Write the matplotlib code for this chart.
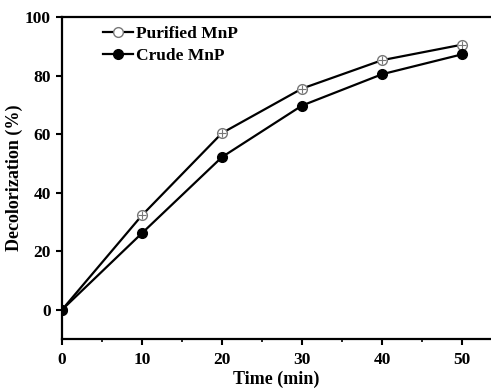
import matplotlib
matplotlib.use("Agg")
import matplotlib.pyplot as plt

time_min = [0, 10, 20, 30, 40, 50]
purified = [0, 32.3, 60.4, 75.6, 85.3, 90.6]
crude = [0, 26.2, 52.2, 69.8, 80.5, 87.3]

plt.rcParams["font.family"] = ["Liberation Serif", "DejaVu Serif"]
plt.rcParams["font.weight"] = "bold"

fig = plt.figure(figsize=(4.91, 3.89), dpi=100)
ax = fig.add_axes([0.126, 0.128, 0.874, 0.828])

ax.plot(time_min, purified, "-o", color="black", lw=1.6, ms=7,
        mfc="white", mec="#777777", mew=1.0, label="Purified MnP")
ax.plot(time_min, purified, "+", color="#777777", ms=6, mew=0.8)
ax.plot(time_min, crude, "-o", color="black", lw=1.6, ms=7,
        mfc="black", mec="black", label="Crude MnP")

ax.set_xlim(0, 53.6)
ax.set_ylim(-10, 100)
ax.set_xticks([0, 10, 20, 30, 40, 50])
ax.set_xticks([5, 15, 25, 35, 45], minor=True)
ax.set_yticks([0, 20, 40, 60, 80, 100])
ax.spines["right"].set_visible(False)
for s in ["left", "bottom", "top"]:
    ax.spines[s].set_linewidth(1.6)
ax.tick_params(direction="out", width=1.5, length=4, labelsize=12.5)
ax.tick_params(axis="x", pad=5)
ax.tick_params(axis="y", pad=4)
ax.tick_params(which="minor", direction="out", width=1.2, length=2.5)

ax.set_xlabel("Time (min)", fontsize=13, fontweight="bold", labelpad=2)
ax.set_ylabel("Decolorization (%)", fontsize=13, fontweight="bold", labelpad=1)

ax.legend(loc="upper left", bbox_to_anchor=(0.06, 1.02), frameon=False,
          fontsize=12.5, handlelength=1.7, handletextpad=0.2, labelspacing=0.3)

fig.savefig("out.png", dpi=100)
